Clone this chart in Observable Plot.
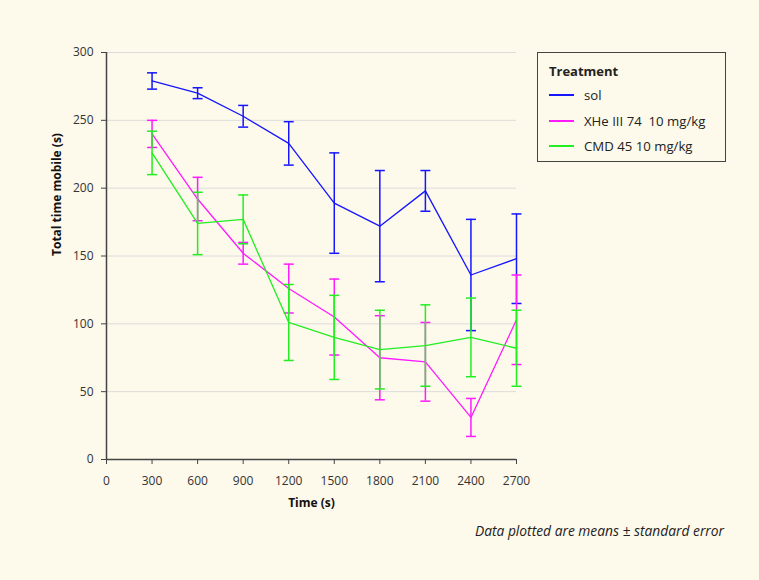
<!DOCTYPE html>
<html><head><meta charset="utf-8">
<script src="https://cdn.jsdelivr.net/npm/d3@7"></script>
<script src="https://cdn.jsdelivr.net/npm/@observablehq/plot@0.6"></script>
<style>
html,body{margin:0;padding:0;background:#fdf9eb;}
#wrap{position:relative;width:759px;height:580px;background:#fdf9eb;font-family:"Open Sans",sans-serif;color:#222;}
#legend{position:absolute;left:537px;top:52px;width:187px;height:108px;border:1px solid #444;font-size:13.2px;}
#legend .t{position:absolute;left:11px;top:9px;font-weight:bold;font-size:13px;}
#legend .e{position:absolute;left:11px;height:18px;line-height:18px;white-space:pre;}
#legend .sw{position:absolute;left:0;top:8px;width:25px;height:2px;}
#legend .lb{position:absolute;left:35px;top:0;}
#caption{position:absolute;right:35px;top:521px;font-style:italic;font-size:13.8px;}
</style></head>
<body><div id="wrap"><div id="chart"></div>
<div id="legend"></div>
<div id="caption">Data plotted are means ± standard error</div></div>
<script>
const times = [300,600,900,1200,1500,1800,2100,2400,2700];
const solMean = [279,270,253,233,189,172,198,136,148];
const solSE   = [6,4,8,16,37,41,15,41,33];
const xheMean = [240,192,152,126,105,75,72,31,103];
const xheSE   = [10,16,8,18,28,31,29,14,33];
const cmdMean = [226,174,177,101,90,81,84,90,82];
const cmdSE   = [16,23,18,28,31,29,30,29,28];
const seriesNames = ["sol","XHe III 74  10 mg/kg","CMD 45 10 mg/kg"];
const seriesColors = ["#1515ff","#ff1aff","#22ee22"];
const xTicks = [0,300,600,900,1200,1500,1800,2100,2400,2700];
const yTicks = [0,50,100,150,200,250,300];

const means = [solMean,xheMean,cmdMean];
const ses = [solSE,xheSE,cmdSE];
const rows = [];
seriesNames.forEach((s,i)=>times.forEach((t,j)=>rows.push({series:s,t,m:means[i][j],lo:means[i][j]-ses[i][j],hi:means[i][j]+ses[i][j]})));

const cap = {draw(ctx){ctx.moveTo(-5,0);ctx.lineTo(5,0);}};

const marks = [
  Plot.gridY(yTicks.filter(d=>d>0),{stroke:"#dcdcdc",strokeOpacity:1}),
  Plot.ruleX([0],{stroke:"#444",strokeWidth:1.5}),
  Plot.ruleY([0],{stroke:"#444",strokeWidth:1.5}),
  Plot.axisY(yTicks,{tickSize:5,tickPadding:8,fontSize:12,label:null,stroke:"#444",fill:"#333",tickFormat:d=>String(d)}),
  Plot.axisX(xTicks,{tickSize:5,tickPadding:12,fontSize:12,label:null,stroke:"#444",fill:"#333",tickFormat:d=>String(d)}),
  Plot.text(["Total time mobile (s)"],{frameAnchor:"left",dx:-49,rotate:-90,fontWeight:"bold",fontSize:12,fill:"#111"}),
  Plot.text(["Time (s)"],{frameAnchor:"bottom",dy:47,fontWeight:"bold",fontSize:12,fill:"#111"})
];
seriesNames.forEach((s,i)=>{
  const d = rows.filter(r=>r.series===s);
  marks.push(Plot.line(d,{x:"t",y:"m",stroke:seriesColors[i],strokeWidth:1.3}));
  marks.push(Plot.ruleX(d,{x:"t",y1:"lo",y2:"hi",stroke:seriesColors[i],strokeWidth:1.5}));
  marks.push(Plot.dot(d,{x:"t",y:"hi",symbol:cap,stroke:seriesColors[i],strokeWidth:1.5,fill:"none"}));
  marks.push(Plot.dot(d,{x:"t",y:"lo",symbol:cap,stroke:seriesColors[i],strokeWidth:1.5,fill:"none"}));
});

const chart = Plot.plot({
  width:759,height:580,
  marginLeft:106,marginRight:243,marginTop:52,marginBottom:121,
  style:{background:"transparent",fontFamily:"Open Sans, sans-serif"},
  x:{domain:[0,2700]},
  y:{domain:[0,300]},
  marks
});
document.getElementById("chart").appendChild(chart);

const lg = document.getElementById("legend");
const t = document.createElement("div"); t.className="t"; t.textContent="Treatment"; lg.appendChild(t);
seriesNames.forEach((s,i)=>{
  const e=document.createElement("div"); e.className="e"; e.style.top=(33+i*25.5)+"px";
  const sw=document.createElement("div"); sw.className="sw"; sw.style.background=seriesColors[i];
  const lb=document.createElement("div"); lb.className="lb"; lb.textContent=s;
  e.appendChild(sw); e.appendChild(lb); lg.appendChild(e);
});
</script></body></html>
